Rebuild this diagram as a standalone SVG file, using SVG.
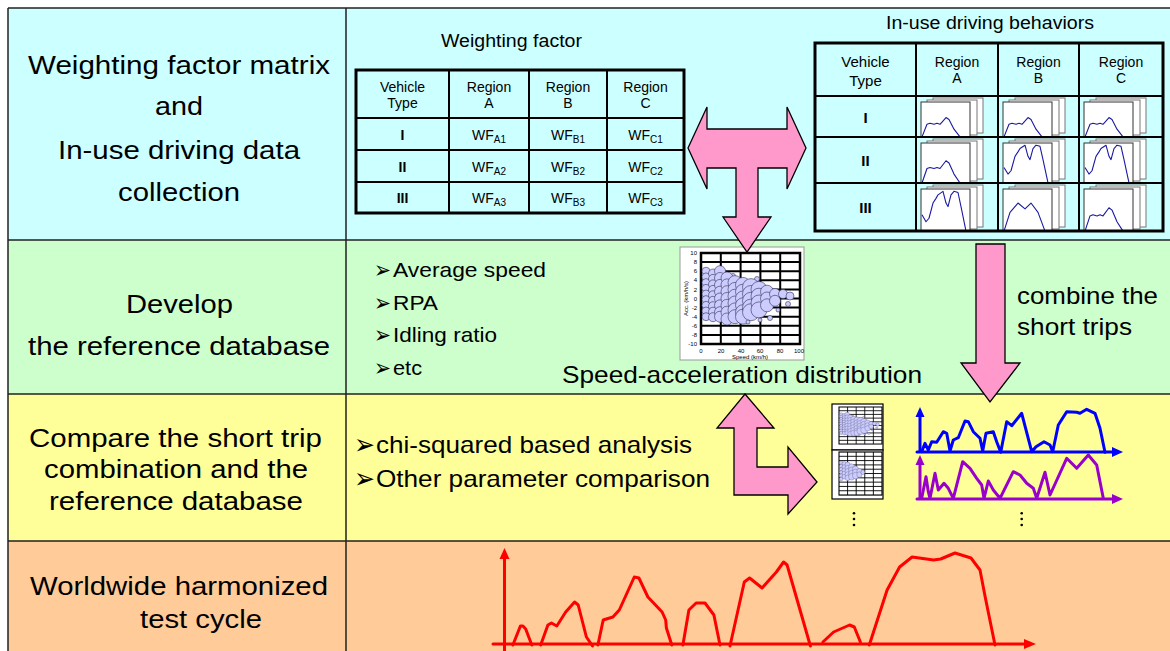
<svg xmlns="http://www.w3.org/2000/svg" width="1170" height="651" viewBox="0 0 1170 651">
<style>
.t{font-family:"Liberation Sans",Arial,sans-serif;fill:#000}
.lbl{font-size:26.5px}
.lst{font-size:21px}
.lst2{font-size:24px}
.ttl{font-size:17.5px}
.tb{font-size:14px;text-anchor:middle}
.tb2{font-size:15px;text-anchor:middle}
.tick{font-size:6px;font-family:"Liberation Sans",Arial,sans-serif;fill:#000}
.bul{font-family:"DejaVu Sans",sans-serif;fill:#000}
.sep{stroke:#222;stroke-width:1.5;fill:none}
.tbl{fill:none;stroke:#000;stroke-width:3}
.tbi{fill:none;stroke:#000;stroke-width:2}
.sh{fill:#fff;stroke:#777;stroke-width:1}
.fr{fill:#fff;stroke:#333;stroke-width:1}
.cv{fill:none;stroke:#1a1aa0;stroke-width:1.1;stroke-linejoin:round}
.b{fill:#CCCCFF;stroke:#333355;stroke-width:0.6}
.arrow{fill:#FF99CC;stroke:#000;stroke-width:1.3;stroke-linejoin:miter}
.blue{fill:none;stroke:#0000FF;stroke-width:3;stroke-linejoin:round;stroke-linecap:round}
.purp{fill:none;stroke:#9900CC;stroke-width:3;stroke-linejoin:round;stroke-linecap:round}
.red{fill:none;stroke:#FF0000;stroke-width:3;stroke-linejoin:round;stroke-linecap:round}
</style>
<defs>
<path id="cLow" class="cv" vector-effect="non-scaling-stroke" d="M1,36 L6,23 L9,22 L13,23 L16,22 L19,23 L25,16 L28,18 L33,28 L39,36"/>
<path id="cHigh" class="cv" vector-effect="non-scaling-stroke" d="M1,22 L5,28 L8,25 L12,12 L15,8 L17,5 L22,2 L25,12 L27,15 L30,5 L33,2 L37,3 L40,15 L45,36"/>
<path id="cMound" class="cv" vector-effect="non-scaling-stroke" d="M1,36 L7,20 L15,12 L22,17 L28,12 L35,20 L42,36"/>
<g id="pgrid" fill="none" stroke="#000" stroke-width="2">
<path d="M720.8,253V344M740.6,253V344M760.4,253V344M780.2,253V344M701,262.1H800M701,271.2H800M701,280.3H800M701,289.4H800M701,298.5H800M701,307.6H800M701,316.7H800M701,325.8H800M701,334.9H800"/>
<rect x="701" y="253" width="99" height="91" stroke-width="2.5"/>
</g>
<g id="bub1">
<circle class="b" cx="706" cy="271.2" r="4"/><circle class="b" cx="706" cy="276.9" r="4"/><circle class="b" cx="706" cy="282.6" r="4"/><circle class="b" cx="706" cy="288.3" r="4"/><circle class="b" cx="706" cy="294" r="4"/><circle class="b" cx="706" cy="299.6" r="4"/><circle class="b" cx="706" cy="305.3" r="4"/><circle class="b" cx="706" cy="311" r="4"/><circle class="b" cx="706" cy="316.7" r="4"/>
<circle class="b" cx="713" cy="273.5" r="4.5"/><circle class="b" cx="713" cy="278.9" r="4.5"/><circle class="b" cx="713" cy="284.4" r="4.5"/><circle class="b" cx="713" cy="289.9" r="4.5"/><circle class="b" cx="713" cy="295.3" r="4.5"/><circle class="b" cx="713" cy="300.8" r="4.5"/><circle class="b" cx="713" cy="306.2" r="4.5"/><circle class="b" cx="713" cy="311.7" r="4.5"/><circle class="b" cx="713" cy="317.2" r="4.5"/>
<circle class="b" cx="720" cy="271.2" r="5.5"/><circle class="b" cx="720" cy="278" r="5.5"/><circle class="b" cx="720" cy="284.9" r="5.5"/><circle class="b" cx="720" cy="291.7" r="5.5"/><circle class="b" cx="720" cy="298.5" r="5.5"/><circle class="b" cx="720" cy="305.3" r="5.5"/><circle class="b" cx="720" cy="312.2" r="5.5"/><circle class="b" cx="720" cy="316.7" r="5.5"/>
<circle class="b" cx="733" cy="276" r="2.5"/>
<circle class="b" cx="727" cy="278" r="6"/><circle class="b" cx="727" cy="284.9" r="6"/><circle class="b" cx="727" cy="291.7" r="6"/><circle class="b" cx="727" cy="298.5" r="6"/><circle class="b" cx="727" cy="305.3" r="6"/><circle class="b" cx="727" cy="312.2" r="6"/><circle class="b" cx="727" cy="319" r="6"/>
<circle class="b" cx="735" cy="282.6" r="7"/><circle class="b" cx="735" cy="289.4" r="7"/><circle class="b" cx="735" cy="296.2" r="7"/><circle class="b" cx="735" cy="303" r="7"/><circle class="b" cx="735" cy="309.9" r="7"/><circle class="b" cx="735" cy="316.7" r="7"/>
<circle class="b" cx="743" cy="284.9" r="7.5"/><circle class="b" cx="743" cy="291.7" r="7.5"/><circle class="b" cx="743" cy="298.5" r="7.5"/><circle class="b" cx="743" cy="305.3" r="7.5"/><circle class="b" cx="743" cy="312.2" r="7.5"/><circle class="b" cx="743" cy="316.7" r="7.5"/>
<circle class="b" cx="757" cy="279" r="2.5"/>
<circle class="b" cx="751" cy="287.1" r="8.5"/><circle class="b" cx="751" cy="294" r="8.5"/><circle class="b" cx="751" cy="300.8" r="8.5"/><circle class="b" cx="751" cy="307.6" r="8.5"/><circle class="b" cx="751" cy="312.2" r="8.5"/>
<circle class="b" cx="759" cy="289.4" r="8"/><circle class="b" cx="759" cy="296.2" r="8"/><circle class="b" cx="759" cy="303" r="8"/><circle class="b" cx="759" cy="309.9" r="8"/>
<circle class="b" cx="767" cy="291.7" r="6.5"/><circle class="b" cx="767" cy="298.5" r="6.5"/><circle class="b" cx="767" cy="305.3" r="6.5"/>
<circle class="b" cx="775" cy="294" r="5.5"/><circle class="b" cx="775" cy="300.8" r="5.5"/>
<circle class="b" cx="783" cy="294" r="4.5"/><circle class="b" cx="790" cy="296" r="4"/>
<circle class="b" cx="748" cy="322" r="2"/><circle class="b" cx="760" cy="320" r="2"/><circle class="b" cx="770" cy="318" r="2.5"/><circle class="b" cx="778" cy="310" r="2"/><circle class="b" cx="788" cy="304" r="2.5"/>
</g>
<g id="bub2">
<circle class="b" cx="706" cy="275.8" r="4"/><circle class="b" cx="706" cy="282.6" r="4"/><circle class="b" cx="706" cy="289.4" r="4"/><circle class="b" cx="706" cy="296.2" r="4"/><circle class="b" cx="706" cy="303" r="4"/><circle class="b" cx="706" cy="309.9" r="4"/>
<circle class="b" cx="713" cy="278" r="5"/><circle class="b" cx="713" cy="284.9" r="5"/><circle class="b" cx="713" cy="291.7" r="5"/><circle class="b" cx="713" cy="298.5" r="5"/><circle class="b" cx="713" cy="305.3" r="5"/>
<circle class="b" cx="721" cy="280.3" r="6"/><circle class="b" cx="721" cy="287.1" r="6"/><circle class="b" cx="721" cy="294" r="6"/><circle class="b" cx="721" cy="300.8" r="6"/><circle class="b" cx="721" cy="307.6" r="6"/>
<circle class="b" cx="730" cy="284.9" r="7"/><circle class="b" cx="730" cy="291.7" r="7"/><circle class="b" cx="730" cy="298.5" r="7"/><circle class="b" cx="730" cy="305.3" r="7"/>
<circle class="b" cx="739" cy="289.4" r="7"/><circle class="b" cx="739" cy="296.2" r="7"/><circle class="b" cx="739" cy="303" r="7"/>
<circle class="b" cx="748" cy="294" r="6"/><circle class="b" cx="748" cy="300.8" r="6"/>
<circle class="b" cx="756" cy="296.2" r="4.5"/>
</g>
</defs>

<g id="background">
<rect x="8" y="8" width="1162" height="232" fill="#CCFFFF"/>
<rect x="8" y="240" width="1162" height="154" fill="#CCFFCC"/>
<rect x="8" y="394" width="1162" height="147" fill="#FFFF99"/>
<rect x="8" y="541" width="1162" height="110" fill="#FFCC99"/>
<path class="sep" d="M8,8H1170M8,8V651M346,8V651M8,240H1170M8,394H1170M8,541H1170"/>
</g>

<g id="stage1-label">
<text class="t lbl" x="28" y="74" textLength="302" lengthAdjust="spacingAndGlyphs">Weighting factor matrix</text>
<text class="t lbl" x="155" y="115" textLength="48" lengthAdjust="spacingAndGlyphs">and</text>
<text class="t lbl" x="58" y="159" textLength="242" lengthAdjust="spacingAndGlyphs">In-use driving data</text>
<text class="t lbl" x="118" y="201" textLength="122" lengthAdjust="spacingAndGlyphs">collection</text>
</g>
<g id="stage2-label">
<text class="t lbl" x="126" y="313" textLength="107" lengthAdjust="spacingAndGlyphs">Develop</text>
<text class="t lbl" x="28" y="355" textLength="302" lengthAdjust="spacingAndGlyphs">the reference database</text>
</g>
<g id="stage3-label">
<text class="t lbl" x="29" y="447" textLength="293" lengthAdjust="spacingAndGlyphs">Compare the short trip</text>
<text class="t lbl" x="44" y="478" textLength="264" lengthAdjust="spacingAndGlyphs">combination and the</text>
<text class="t lbl" x="49" y="510" textLength="254" lengthAdjust="spacingAndGlyphs">reference database</text>
</g>
<g id="stage4-label">
<text class="t lbl" x="30" y="595" textLength="298" lengthAdjust="spacingAndGlyphs">Worldwide harmonized</text>
<text class="t lbl" x="140" y="628" textLength="122" lengthAdjust="spacingAndGlyphs">test cycle</text>
</g>

<g id="weighting-factor-table">
<text class="t ttl" x="441" y="47" textLength="141" lengthAdjust="spacingAndGlyphs">Weighting factor</text>
<path class="tbi" d="M449,70V213M529,70V213M607,70V213M356,118H684M356,150H684M356,182H684"/>
<rect class="tbl" x="356" y="70" width="328" height="143"/>
<text class="t tb" x="402.5" y="92">Vehicle</text><text class="t tb" x="402.5" y="108">Type</text>
<text class="t tb" x="489" y="92">Region</text><text class="t tb" x="489" y="108">A</text>
<text class="t tb" x="568" y="92">Region</text><text class="t tb" x="568" y="108">B</text>
<text class="t tb" x="645.5" y="92">Region</text><text class="t tb" x="645.5" y="108">C</text>
<text class="t tb" x="402.5" y="140" font-weight="bold">I</text><text class="t tb" x="402.5" y="172" font-weight="bold">II</text><text class="t tb" x="402.5" y="203" font-weight="bold">III</text>
<text class="t tb" x="489" y="140">WF<tspan font-size="10" dy="3">A1</tspan></text>
<text class="t tb" x="568" y="140">WF<tspan font-size="10" dy="3">B1</tspan></text>
<text class="t tb" x="645.5" y="140">WF<tspan font-size="10" dy="3">C1</tspan></text>
<text class="t tb" x="489" y="172">WF<tspan font-size="10" dy="3">A2</tspan></text>
<text class="t tb" x="568" y="172">WF<tspan font-size="10" dy="3">B2</tspan></text>
<text class="t tb" x="645.5" y="172">WF<tspan font-size="10" dy="3">C2</tspan></text>
<text class="t tb" x="489" y="203">WF<tspan font-size="10" dy="3">A3</tspan></text>
<text class="t tb" x="568" y="203">WF<tspan font-size="10" dy="3">B3</tspan></text>
<text class="t tb" x="645.5" y="203">WF<tspan font-size="10" dy="3">C3</tspan></text>
</g>

<g id="driving-behaviors-table">
<text class="t ttl" x="886" y="29" textLength="208" lengthAdjust="spacingAndGlyphs">In-use driving behaviors</text>
<g id="cells-row1">
<rect class="sh" x="933" y="98" width="50" height="35"/><rect class="sh" x="927" y="100" width="50" height="35"/><rect class="fr" x="921" y="102" width="49" height="35"/>
<use href="#cLow" transform="translate(921,102) scale(1,0.97)"/>
<rect class="sh" x="1015" y="98" width="50" height="35"/><rect class="sh" x="1009" y="100" width="50" height="35"/><rect class="fr" x="1003" y="102" width="49" height="35"/>
<use href="#cLow" transform="translate(1003,102) scale(1,0.97)"/>
<rect class="sh" x="1096" y="98" width="50" height="35"/><rect class="sh" x="1090" y="100" width="50" height="35"/><rect class="fr" x="1084" y="102" width="49" height="35"/>
<use href="#cLow" transform="translate(1084,102) scale(1,0.97)"/>
</g>
<g id="cells-row2">
<rect class="sh" x="933" y="139" width="50" height="40"/><rect class="sh" x="927" y="141" width="50" height="40"/><rect class="fr" x="921" y="143" width="49" height="40"/>
<use href="#cLow" transform="translate(921,143) scale(1,1.11)"/>
<rect class="sh" x="1015" y="139" width="50" height="40"/><rect class="sh" x="1009" y="141" width="50" height="40"/><rect class="fr" x="1003" y="143" width="49" height="40"/>
<use href="#cHigh" transform="translate(1003,143) scale(1,1.11)"/>
<rect class="sh" x="1096" y="139" width="50" height="40"/><rect class="sh" x="1090" y="141" width="50" height="40"/><rect class="fr" x="1084" y="143" width="49" height="40"/>
<use href="#cHigh" transform="translate(1084,143) scale(1,1.11)"/>
</g>
<g id="cells-row3">
<rect class="sh" x="933" y="185" width="50" height="42"/><rect class="sh" x="927" y="187" width="50" height="42"/><rect class="fr" x="921" y="189" width="49" height="42"/>
<use href="#cHigh" transform="translate(921,189) scale(1,1.17)"/>
<rect class="sh" x="1015" y="185" width="50" height="42"/><rect class="sh" x="1009" y="187" width="50" height="42"/><rect class="fr" x="1003" y="189" width="49" height="42"/>
<use href="#cMound" transform="translate(1003,189) scale(1,1.17)"/>
<rect class="sh" x="1096" y="185" width="50" height="42"/><rect class="sh" x="1090" y="187" width="50" height="42"/><rect class="fr" x="1084" y="189" width="49" height="42"/>
<use href="#cLow" transform="translate(1084,189) scale(1,1.17)"/>
</g>
<path class="tbi" d="M916,43V231M998,43V231M1079,43V231M815,96H1163M815,137H1163M815,183H1163"/>
<rect class="tbl" x="815" y="43" width="348" height="188"/>
<text class="t tb2" x="865.5" y="67" font-size="15.5">Vehicle</text><text class="t tb2" x="865.5" y="86" font-size="15.5">Type</text>
<text class="t tb" x="957" y="67">Region</text><text class="t tb" x="957" y="83">A</text>
<text class="t tb" x="1038.5" y="67">Region</text><text class="t tb" x="1038.5" y="83">B</text>
<text class="t tb" x="1121" y="67">Region</text><text class="t tb" x="1121" y="83">C</text>
<text class="t tb2" x="865.5" y="123" font-weight="bold">I</text><text class="t tb2" x="865.5" y="166" font-weight="bold">II</text><text class="t tb2" x="865.5" y="213" font-weight="bold">III</text>
</g>

<g id="reference-metrics">
<text class="bul" x="374" y="278" font-size="24" textLength="17" lengthAdjust="spacingAndGlyphs">➢</text>
<text class="t lst" x="393" y="277" textLength="153" lengthAdjust="spacingAndGlyphs">Average speed</text>
<text class="bul" x="374" y="311" font-size="24" textLength="17" lengthAdjust="spacingAndGlyphs">➢</text>
<text class="t lst" x="393" y="310" textLength="45" lengthAdjust="spacingAndGlyphs">RPA</text>
<text class="bul" x="374" y="343" font-size="24" textLength="17" lengthAdjust="spacingAndGlyphs">➢</text>
<text class="t lst" x="393" y="342" textLength="104" lengthAdjust="spacingAndGlyphs">Idling ratio</text>
<text class="bul" x="374" y="376" font-size="24" textLength="17" lengthAdjust="spacingAndGlyphs">➢</text>
<text class="t lst" x="393" y="375" textLength="29" lengthAdjust="spacingAndGlyphs">etc</text>
</g>

<g id="speed-acceleration-plot">
<rect x="680" y="247" width="124" height="113" fill="#fff" stroke="#999" stroke-width="1"/>
<use href="#pgrid"/>
<use href="#bub1"/>
<g class="tick" text-anchor="end">
<text x="697" y="255">10</text><text x="697" y="264">8</text><text x="697" y="273">6</text><text x="697" y="282">4</text><text x="697" y="291.5">2</text><text x="697" y="300.5">0</text><text x="697" y="309.5">-2</text><text x="697" y="318.5">-4</text><text x="697" y="328">-6</text><text x="697" y="337">-8</text><text x="697" y="346">-10</text>
</g>
<g class="tick" text-anchor="middle">
<text x="701" y="353">0</text><text x="721" y="353">20</text><text x="741" y="353">40</text><text x="760" y="353">60</text><text x="780" y="353">80</text><text x="799" y="353">100</text>
<text x="750" y="359">Speed (km/h)</text>
<text transform="translate(688,298.5) rotate(-90)">Acc. (km/h/s)</text>
</g>
<text class="t" x="562" y="383" font-size="24" textLength="360" lengthAdjust="spacingAndGlyphs">Speed-acceleration distribution</text>
</g>

<g id="combine-label">
<text class="t" x="1017" y="304" font-size="24" textLength="141" lengthAdjust="spacingAndGlyphs">combine the</text>
<text class="t" x="1017" y="335" font-size="24" textLength="115" lengthAdjust="spacingAndGlyphs">short trips</text>
</g>

<g id="comparison-methods">
<text class="bul" x="354" y="454" font-size="28" textLength="21" lengthAdjust="spacingAndGlyphs">➢</text>
<text class="t lst2" x="376" y="453" textLength="316" lengthAdjust="spacingAndGlyphs">chi-squared based analysis</text>
<text class="bul" x="354" y="488" font-size="28" textLength="21" lengthAdjust="spacingAndGlyphs">➢</text>
<text class="t lst2" x="376" y="487" textLength="334" lengthAdjust="spacingAndGlyphs">Other parameter comparison</text>
</g>

<g id="trip-distributions">
<rect x="832" y="404" width="51" height="46" fill="#fff" stroke="#000" stroke-width="1.2"/>
<g transform="translate(839,407) scale(0.434,0.407) translate(-701,-253)"><use href="#pgrid"/><use href="#bub1"/></g>
<rect x="832" y="450" width="51" height="49" fill="#fff" stroke="#000" stroke-width="1.2"/>
<g transform="translate(839,452) scale(0.434,0.473) translate(-701,-253)"><use href="#pgrid"/><use href="#bub2"/></g>
<circle cx="854" cy="513.3" r="1.3"/><circle cx="854" cy="519" r="1.3"/><circle cx="854" cy="525" r="1.3"/>
</g>

<g id="short-trip-combinations">
<path class="blue" d="M920,452V416M917,452H1113"/>
<polygon points="920,407 915.5,417 924.5,417" fill="#0000FF"/>
<polygon points="1123,452 1112,447 1112,457" fill="#0000FF"/>
<polyline class="blue" points="921.7,451.7 925,443.3 928.3,450 931.7,441.7 936.7,442.3 943.3,431.7 946.7,433.3 950,451 953.3,440 958.3,437.7 965,421 968.3,421.7 973.3,431.7 980,438.3 982.7,451 986,433.3 993.3,431.7 996.7,441.7 1000.7,452.3 1006.7,421.7 1011.7,425.7 1021.7,413.3 1031.7,451.7 1036,446.7 1044,441.7 1050,445 1052.7,451.7 1058.3,425 1066.7,411.7 1076.7,412.3 1080,413.3 1086.7,409.3 1095,413.3 1100,428.3 1105,452.3"/>
<path class="purp" d="M920,499V464M917,499H1113"/>
<polygon points="920,455 915.5,465 924.5,465" fill="#9900CC"/>
<polygon points="1123,499 1112,494 1112,504" fill="#9900CC"/>
<polyline class="purp" points="921.7,498.3 926,476.7 928.3,491.7 930,498.3 935,473.3 938.3,490 944,483.3 948.3,488.3 953.3,498.3 962.7,461.7 970,468.3 976.7,478.3 981.7,485 984,498.3 988.3,481 993.3,490 1000,498.3 1013.3,471.7 1020,475 1026.7,483.3 1033.3,488.3 1036.7,498.3 1045,472.3 1050,495 1066.7,458.3 1076.7,468.3 1088.3,455 1096.7,465 1103.3,498.3"/>
<circle cx="1021.7" cy="513.3" r="1.3"/><circle cx="1021.7" cy="519" r="1.3"/><circle cx="1021.7" cy="525" r="1.3"/>
</g>

<g id="harmonized-cycle">
<path class="red" d="M504.5,651V558M493,644H1025"/>
<polygon points="504.5,548 499.5,559 509.5,559" fill="#FF0000"/>
<polygon points="1036,644 1024,639 1024,649" fill="#FF0000"/>
<polyline class="red" points="512.9,645 520.4,626 522.9,626 525.7,629 531.8,645"/>
<polyline class="red" points="540.7,645 547.9,625 551.4,623 556.8,626 565.7,612 574.6,602 578.2,605 586.4,637 592.5,646"/>
<polyline class="red" points="597.9,645 603.2,620 612.9,617 619.3,610 634.3,577 638.9,578 647.9,597 662.1,612 665.7,620 666.4,628 671.8,645"/>
<polyline class="red" points="682.9,645 688.9,610 696.1,603 705,603 713.9,615 720,645"/>
<polyline class="red" points="730,646 744.3,582 749.6,578 762.1,588 776.4,572 783.6,562 787.1,565 810.4,646"/>
<polyline class="red" points="822.9,642 833.6,632 849.6,625 854.3,627 860.4,642"/>
<polyline class="red" points="869.3,645 887.1,590 899.6,567 912.1,557 933.6,560 940.7,559 955,553 971,558 980,570 985.4,598 995,645"/>
</g>

<g id="connectors">
<polygon class="arrow" points="688,148 707,107 707,129 787,129 787,107 806,148 787,189 787,168 758,168 758,217 771,217 747,252 723,217 736,217 736,168 707,168 707,189"/>
<polygon class="arrow" points="976,244 1005,244 1005,363 1020,363 990,402 961,363 976,363"/>
<polygon class="arrow" points="745,394 774,428 757,428 757,467 788,467 788,447 817,482 788,514 788,495 734,495 734,428 717,428"/>
</g>
</svg>
